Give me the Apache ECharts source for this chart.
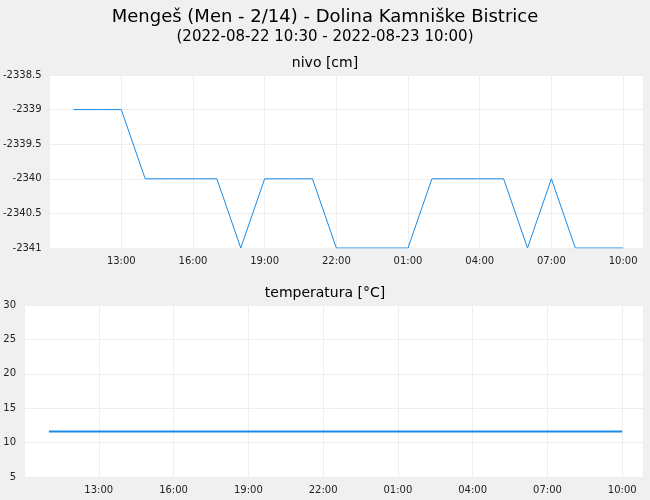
<!DOCTYPE html>
<html><head><meta charset="utf-8">
<script src="https://cdn.jsdelivr.net/npm/echarts@6/dist/echarts.min.js"></script>
<style>html,body{margin:0;background:#f0f0f0}#c{width:650px;height:500px}</style>
</head><body><div id="c"></div>
<script>
// hourly data, 2022-08-22 11:00 .. 2022-08-23 10:00
const startTime = new Date(2022, 7, 22, 11, 0).getTime();
const nivo = [-2339, -2339, -2339, -2340, -2340, -2340, -2340, -2341, -2340, -2340, -2340, -2341,
  -2341, -2341, -2341, -2340, -2340, -2340, -2340, -2341, -2340, -2341, -2341, -2341];
const temperatura = [11.6, 11.6, 11.6, 11.6, 11.6, 11.6, 11.6, 11.6, 11.6, 11.6, 11.6, 11.6,
  11.6, 11.6, 11.6, 11.6, 11.6, 11.6, 11.6, 11.6, 11.6, 11.6, 11.6, 11.6];

const H = 3600 * 1000;
const toPairs = arr => arr.map((v, i) => [startTime + i * H, v]);
const xMin = new Date(2022, 7, 22, 10, 0).getTime();
const xMax = new Date(2022, 7, 23, 10, 50).getTime();

// value axis: ticks counted from min (10:00) every 3 h
function xAxis(gridIndex) {
  return {
    type: 'value', gridIndex, min: xMin, max: xMax, interval: 3 * H,
    axisLine: { show: false }, axisTick: { show: false },
    splitLine: { show: true, lineStyle: { color: '#eeeeee' } },
    axisLabel: {
      fontSize: 10, color: '#222', fontFamily: 'DejaVu Sans',
      showMinLabel: false, showMaxLabel: false,
      formatter: v => {
        if (v <= xMin || v >= xMax) return '';
        const d = new Date(v);
        return String(d.getHours()).padStart(2, '0') + ':' + String(d.getMinutes()).padStart(2, '0');
      }
    }
  };
}
function yAxis(gridIndex, min, max, interval) {
  return {
    type: 'value', gridIndex, min, max, interval,
    axisLine: { show: false }, axisTick: { show: false },
    splitLine: { lineStyle: { color: '#eeeeee' } },
    axisLabel: { fontSize: 10, color: '#222', fontFamily: 'DejaVu Sans', formatter: v => String(v) }
  };
}

const chart = echarts.init(document.getElementById('c'));
chart.setOption({
  backgroundColor: '#f0f0f0',
  animation: false,
  title: [
    { text: 'Mengeš (Men - 2/14) - Dolina Kamniške Bistrice', left: 'center', top: 3,
      textStyle: { fontSize: 18, fontWeight: 'normal', color: '#000', fontFamily: 'DejaVu Sans' } },
    { text: '(2022-08-22 10:30 - 2022-08-23 10:00)', left: 'center', top: 25,
      textStyle: { fontSize: 15, fontWeight: 'normal', color: '#000', fontFamily: 'DejaVu Sans' } },
    { text: 'nivo [cm]', left: 'center', top: 51,
      textStyle: { fontSize: 14, fontWeight: 'normal', color: '#000', fontFamily: 'DejaVu Sans' } },
    { text: 'temperatura [°C]', left: 'center', top: 281,
      textStyle: { fontSize: 14, fontWeight: 'normal', color: '#000', fontFamily: 'DejaVu Sans' } }
  ],
  grid: [
    { left: 48, right: 7, top: 75, height: 173, show: true, backgroundColor: '#fff', borderWidth: 0 },
    { left: 24, right: 7, top: 305, height: 172, show: true, backgroundColor: '#fff', borderWidth: 0 }
  ],
  xAxis: [xAxis(0), xAxis(1)],
  yAxis: [yAxis(0, -2341, -2338.5, 0.5), yAxis(1, 5, 30, 5)],
  series: [
    { type: 'line', xAxisIndex: 0, yAxisIndex: 0, data: toPairs(nivo), showSymbol: false,
      lineStyle: { color: '#1a8be6', width: 1 } },
    { type: 'line', xAxisIndex: 1, yAxisIndex: 1, data: toPairs(temperatura), showSymbol: false,
      lineStyle: { color: '#1a8be6', width: 2 } }
  ]
});
</script></body></html>
